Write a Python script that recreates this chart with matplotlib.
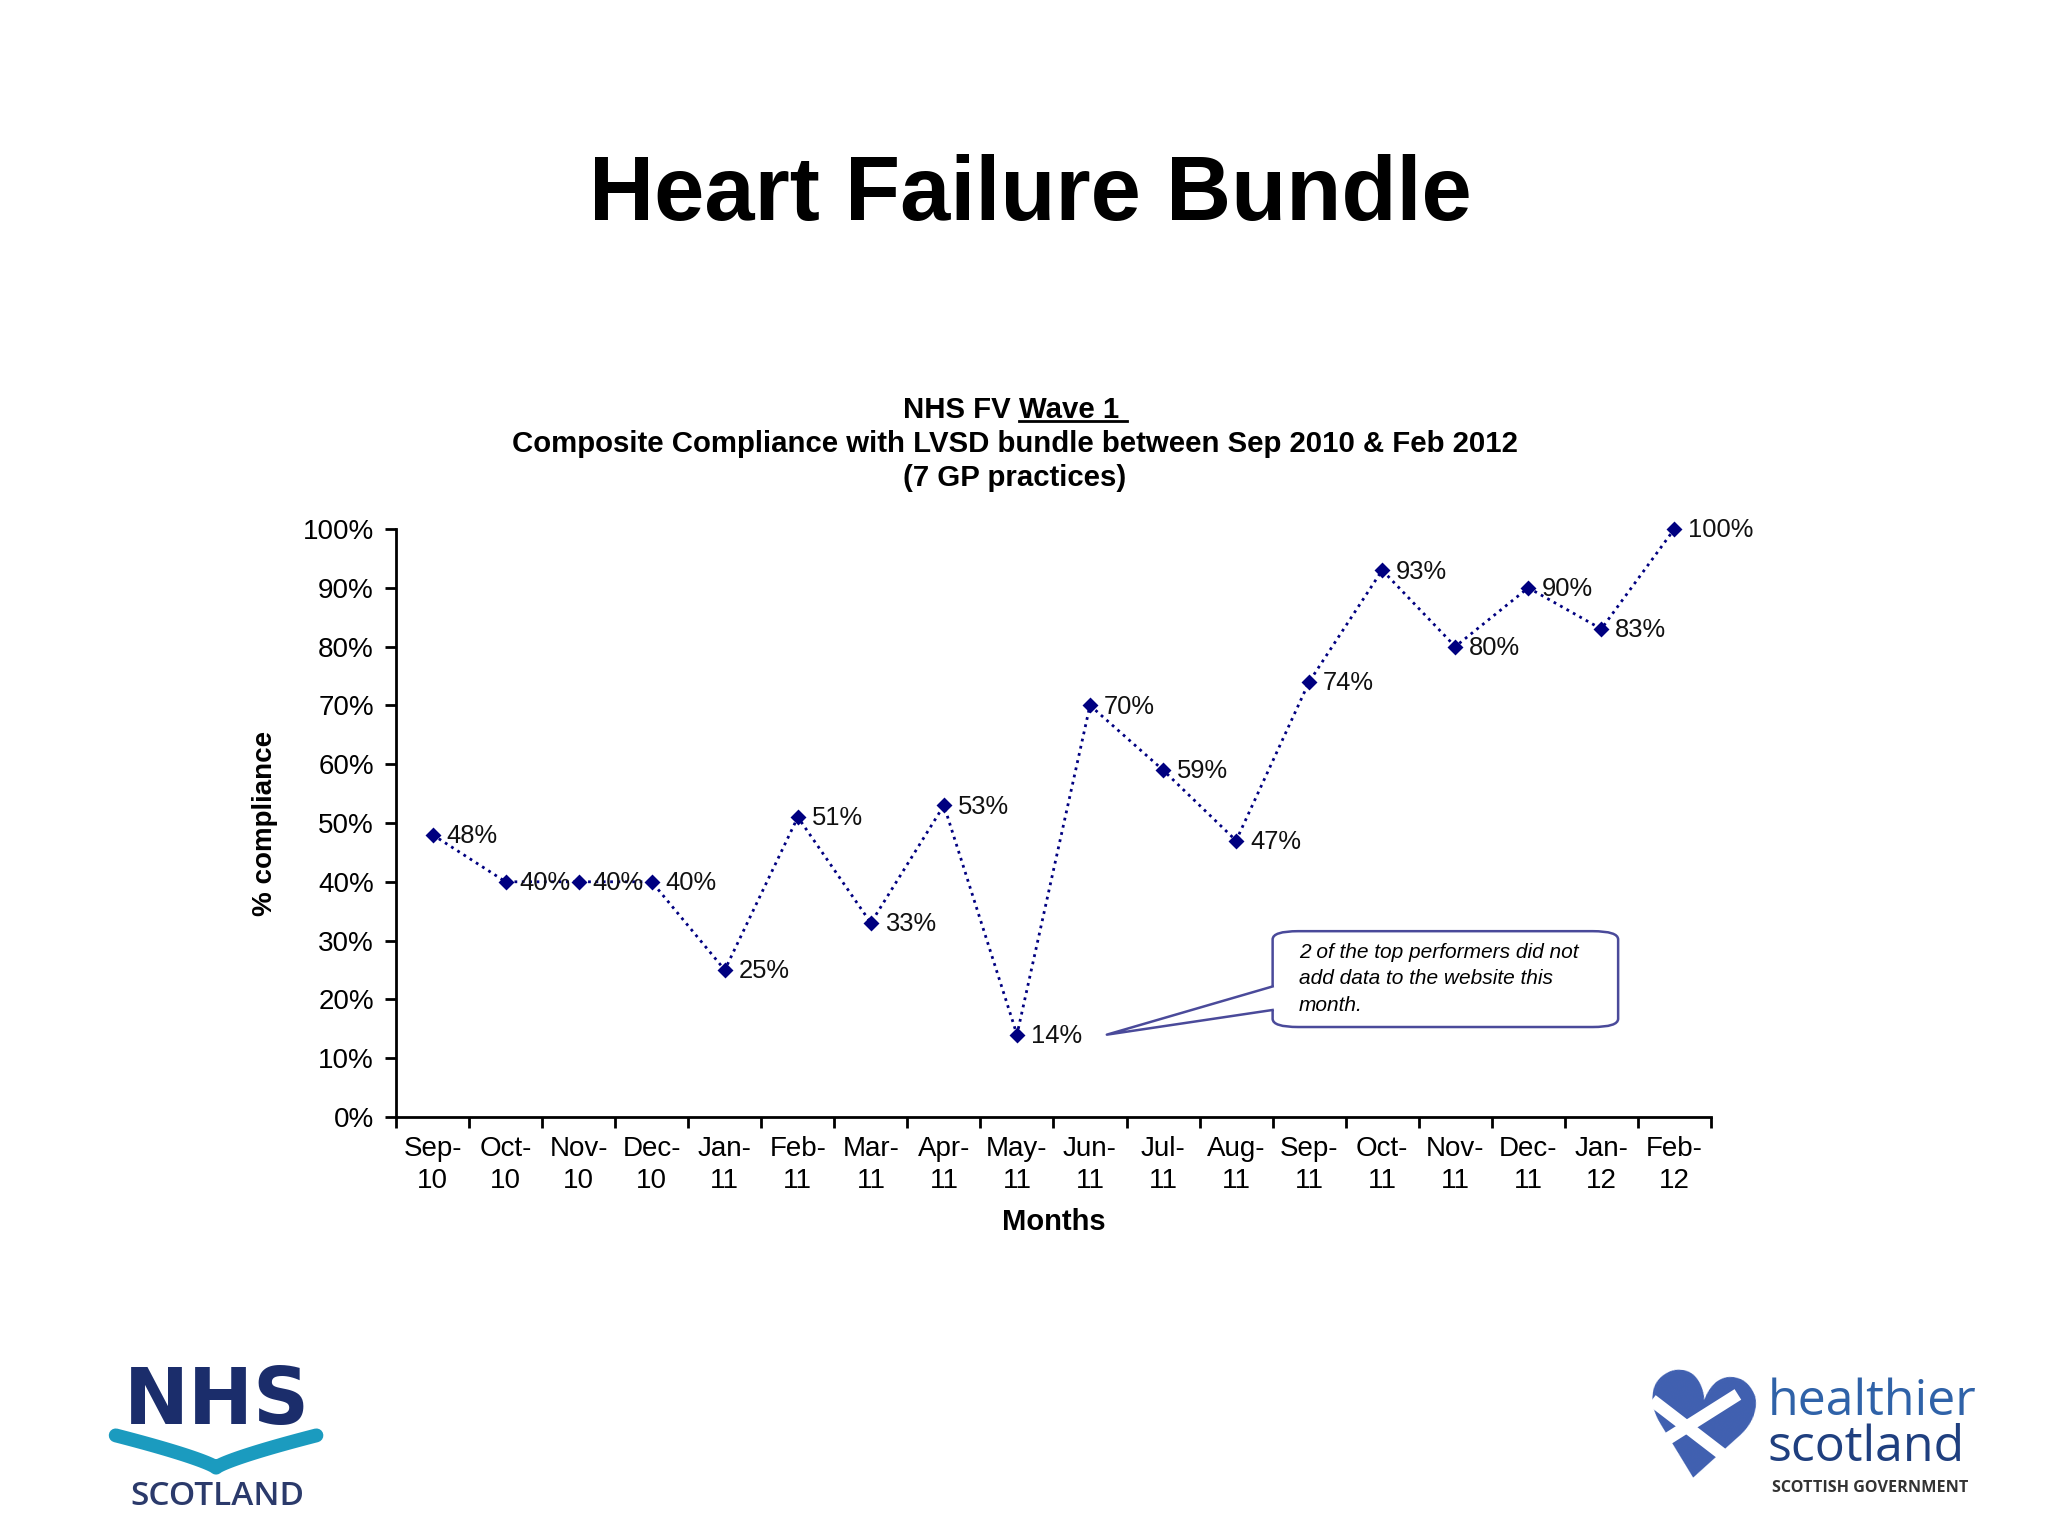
"""Heart Failure Bundle - composite compliance chart."""
import matplotlib
matplotlib.use("Agg")
import matplotlib.pyplot as plt  # type: ignore
from matplotlib.patches import FancyBboxPatch, Polygon  # type: ignore
import numpy as np  # type: ignore

plt.rcParams["font.family"] = ["Liberation Sans", "DejaVu Sans"]

months = ["Sep-\n10", "Oct-\n10", "Nov-\n10", "Dec-\n10", "Jan-\n11", "Feb-\n11",
          "Mar-\n11", "Apr-\n11", "May-\n11", "Jun-\n11", "Jul-\n11", "Aug-\n11",
          "Sep-\n11", "Oct-\n11", "Nov-\n11", "Dec-\n11", "Jan-\n12", "Feb-\n12"]
compliance = [48, 40, 40, 40, 25, 51, 33, 53, 14, 70, 59, 47, 74, 93, 80, 90, 83, 100]
y_ticks = [0, 10, 20, 30, 40, 50, 60, 70, 80, 90, 100]
callout_text = "2 of the top performers did not\nadd data to the website this\nmonth."
NAVY = "#000080"
BOX_EDGE = "#4a4a9a"


def main():
    """."""
    fig = plt.figure(figsize=(10.24, 7.68), dpi=200)
    fig.patch.set_facecolor("white")

    fig.text(0.503, 0.872, "Heart Failure Bundle", ha="center", va="center",
             fontsize=32.5, fontweight="bold", color="black")

    # chart titles, "Wave 1 " underlined
    title_fs = 10.6
    full = fig.text(0.4955, 0.733, "NHS FV Wave 1 ", ha="center", va="center",
                    fontsize=title_fs, fontweight="bold", alpha=0)
    fig.canvas.draw()
    inv = fig.transFigure.inverted()
    fb = full.get_window_extent().transformed(inv)
    t1 = fig.text(fb.x0, 0.733, "NHS FV ", ha="left", va="center",
                  fontsize=title_fs, fontweight="bold")
    fig.canvas.draw()
    b1 = t1.get_window_extent().transformed(inv)
    t2 = fig.text(b1.x1, 0.733, "Wave 1 ", ha="left", va="center",
                  fontsize=title_fs, fontweight="bold")
    fig.canvas.draw()
    b2 = t2.get_window_extent().transformed(inv)
    fig.add_artist(plt.Line2D([b2.x0, b2.x1], [b2.y0 + 0.002, b2.y0 + 0.002],
                              color="black", lw=1.0, transform=fig.transFigure))
    fig.text(0.4955, 0.711, "Composite Compliance with LVSD bundle between Sep 2010 & Feb 2012",
             ha="center", va="center", fontsize=title_fs, fontweight="bold")
    fig.text(0.4955, 0.689, "(7 GP practices)", ha="center", va="center",
             fontsize=title_fs, fontweight="bold")

    ax = fig.add_axes([0.1934, 0.2728, 0.642, 0.3828])
    x = np.arange(len(months))
    ax.plot(x, compliance, linestyle=":", color=NAVY, lw=1.0, clip_on=False,
            marker="D", markersize=3.2, markerfacecolor=NAVY, markeredgecolor=NAVY)
    for xi, val in zip(x, compliance):
        ax.annotate(f"{val}%", (xi, val), xytext=(5, -0.5), textcoords="offset points",
                    ha="left", va="center", fontsize=9.2, color="#111111")

    ax.set_xlim(-0.5, len(months) - 0.5)
    ax.set_ylim(0, 100)
    ax.spines["top"].set_visible(False)
    ax.spines["right"].set_visible(False)
    ax.spines["left"].set_linewidth(1.0)
    ax.spines["bottom"].set_linewidth(1.0)
    ax.set_yticks(y_ticks)
    ax.set_yticklabels([f"{v}%" for v in y_ticks], fontsize=10)
    ax.tick_params(axis="y", direction="out", length=4, width=1.0, pad=4)
    ax.set_xticks(np.arange(-0.5, len(months), 1.0))
    ax.set_xticklabels([])
    ax.tick_params(axis="x", which="major", direction="out", length=4, width=1.0)
    ax.set_xticks(x, minor=True)
    ax.set_xticklabels(months, minor=True, fontsize=10, linespacing=1.3)
    ax.tick_params(axis="x", which="minor", length=0, pad=7)
    ax.set_xlabel("Months", fontsize=10.5, fontweight="bold", labelpad=5)
    ax.set_ylabel("% compliance", fontsize=10, fontweight="bold", labelpad=9)

    # callout
    box = FancyBboxPatch((11.5, 15.3), 4.73, 16.3,
                         boxstyle="round,pad=0,rounding_size=0.35",
                         mutation_aspect=4.0, facecolor="white",
                         edgecolor=BOX_EDGE, lw=0.9, zorder=3)
    ax.add_patch(box)
    wedge = Polygon([[11.52, 22.2], [9.23, 14.0], [11.52, 18.2]], closed=True,
                    facecolor="white", edgecolor="none", zorder=4)
    ax.add_patch(wedge)
    ax.plot([11.5, 9.23, 11.5], [22.2, 14.0, 18.2], color=BOX_EDGE, lw=0.9,
            zorder=5)
    ax.text(11.86, 29.6, callout_text, ha="left", va="top", fontsize=7.5,
            style="italic", linespacing=1.5, zorder=6)

    # NHS Scotland logo
    fig.text(0.106, 0.087, "NHS", ha="center", va="center", fontsize=28,
             fontweight="heavy", color="#1b2d6b", family=["DejaVu Sans"])
    u = np.linspace(-1, 1, 121)
    wave_x = 0.1055 + 0.049 * u
    wave_y = 0.0445 + 0.021 * np.abs(u) ** 0.8
    fig.add_artist(plt.Line2D(wave_x, wave_y, color="#1b9bbf", lw=5,
                              transform=fig.transFigure, solid_capstyle="round"))
    fig.text(0.106, 0.026, "SCOTLAND", ha="center", va="center", fontsize=12,
             color="#2b3a6b", family=["Open Sans", "DejaVu Sans"], fontweight="semibold")

    # healthier scotland logo
    fig.text(0.829, 0.063, "\u2665", ha="center", va="center", fontsize=52,
             color="#3f5fb0", family=["DejaVu Sans"], rotation=-8, zorder=3)
    fig.add_artist(plt.Line2D([0.809, 0.849], [0.086, 0.045], color="white", lw=4.5,
                              transform=fig.transFigure, zorder=6))
    fig.add_artist(plt.Line2D([0.808, 0.846], [0.058, 0.090], color="white", lw=4.5,
                              transform=fig.transFigure, zorder=6))
    fig.text(0.863, 0.087, "healthier", ha="left", va="center", fontsize=18,
             color="#2f62a8", family=["Open Sans", "DejaVu Sans"])
    fig.text(0.863, 0.057, "scotland", ha="left", va="center", fontsize=18,
             color="#1f3f7f", family=["Open Sans", "DejaVu Sans"])
    fig.text(0.865, 0.031, "SCOTTISH GOVERNMENT", ha="left", va="center", fontsize=5.8,
             color="#333333", fontweight="bold", family=["Open Sans", "DejaVu Sans"])

    fig.savefig("out.png", dpi=200, facecolor="white")
    plt.close(fig)


if __name__ == "__main__":
    main()
